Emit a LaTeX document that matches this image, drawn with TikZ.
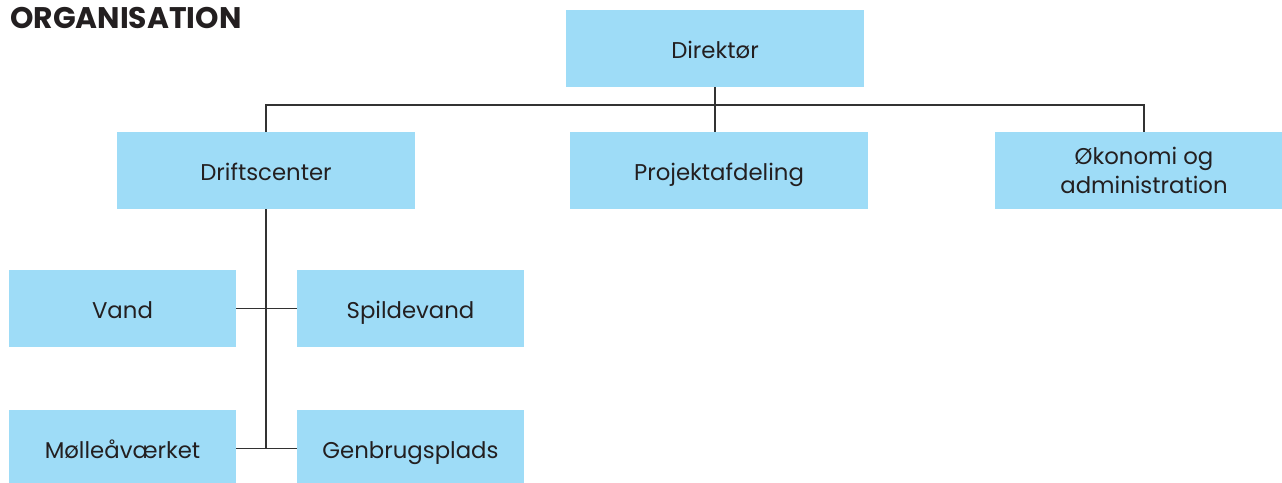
\documentclass[tikz,border=0pt]{standalone}
\usepackage{fontspec}
\setmainfont{Poppins}
\definecolor{boxblue}{RGB}{158,220,247}
\definecolor{txt}{RGB}{35,31,32}
\definecolor{linec}{RGB}{50,50,50}
\begin{document}
\begin{tikzpicture}[x=1pt,y=-1pt,
  boxbase/.style={fill=boxblue,draw=none,minimum width=298pt,minimum height=77pt,inner sep=0pt,
    font=\fontsize{22.8}{29}\selectfont,text=txt},
  unit/.style={boxbase,text height=19pt,text depth=0pt},
  twoline/.style={boxbase,align=center},
  sub/.style={unit,minimum width=227pt},
  conn/.style={draw=linec,line width=1.4pt}]
\path[use as bounding box,clip] (0,0) rectangle (1282,482);
\node[anchor=base west,inner sep=0pt,font=\fontsize{29.8}{32}\selectfont\bfseries,text=txt] (title) at (10,28) {ORGANISATION};
\node[unit] (dir) at (715,48.5) {Direktør};
\node[unit] (drift) at (266,170.5) {Driftscenter};
\node[unit] (proj) at (719,170.5) {Projektafdeling};
\node[twoline] (oko) at (1144,170.5) {Økonomi og\\administration};
\node[sub] (vand) at (122.5,308.5) {Vand};
\node[sub] (spilde) at (410.5,308.5) {Spildevand};
\node[sub] (molle) at (122.5,448.5) {Mølleåværket};
\node[sub] (genbrug) at (410.5,448.5) {Genbrugsplads};
\coordinate (bus) at (715,105);
\coordinate (dend) at (266,448.5);
\draw[conn] (dir.south) -- (dir.south |- proj.north);
\draw[conn] (drift.north) -- (drift.north |- bus) -| (oko.north);
\draw[conn] (drift.south) -- (dend);
\draw[conn] (vand.east) -- (spilde.west);
\draw[conn] (molle.east) -- (genbrug.west);
\end{tikzpicture}
\end{document}
